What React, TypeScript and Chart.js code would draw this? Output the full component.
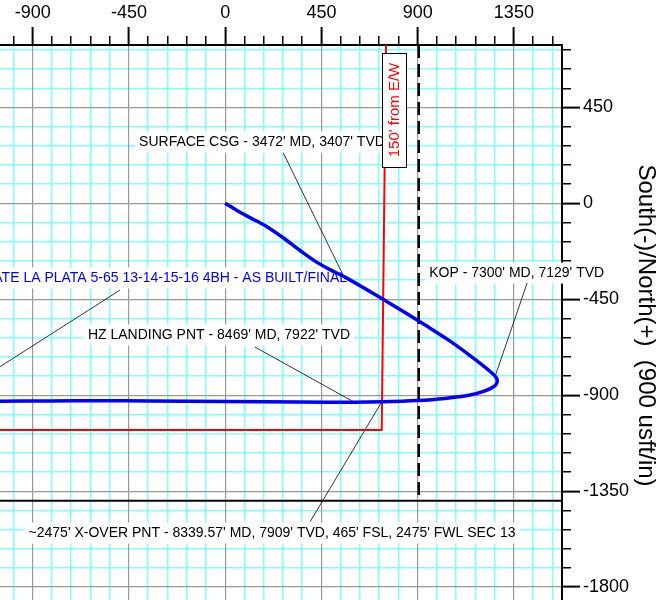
import React, { useEffect, useRef } from "react";
import { Chart, registerables } from "chart.js";

Chart.register(...registerables);

const FONT = '"Liberation Sans", Arial, Helvetica, sans-serif';

// axis ranges (usft)
const X_MIN = -1053;
const X_MAX = 1575;
const Y_MIN = -1889;
const Y_MAX = 743;
const X_MAJOR_TICKS = [-900, -450, 0, 450, 900, 1350];
const Y_MAJOR_TICKS = [450, 0, -450, -900, -1350, -1800];
const MINOR_STEP = 90;
const MAJOR_STEP = 450;
const Y_TITLE = "South(-)/North(+)  (900 usft/in)";

// well path (East/West, South/North)
const WELL_X = [0, 55, 116, 186, 266, 350, 420, 490, 560, 654, 748, 841, 935, 1038, 1145, 1229, 1267, 1271, 1255, 1211, 1145, 1028, 897, 734, 603, 350, 0, -352, -586, -820, -1054, -1150];
const WELL_Y = [0, -33, -67, -104, -158, -221, -271, -311, -346, -400, -456, -512, -571, -637, -714, -780, -817, -841, -860, -881, -899, -915, -925, -931, -933, -932, -930, -927, -926, -927, -928, -928];

// 150' hard line (red)
const HARDLINE_X = [752, 732, -1200];
const HARDLINE_Y = [743, -1063, -1063];

// section lines (black)
const SECTION_EW_X = [905, 905];
const SECTION_EW_Y = [743, -1395];
const SECTION_NS_X = [-1200, 1575];
const SECTION_NS_Y = [-1395, -1395];

// annotation leader lines [x1, y1, x2, y2]
const LEADER_SURFACE = [272, 236, 552, -338];
const LEADER_WELL = [-492, -407, -1193, -856];
const LEADER_HZ = [139, -674, 602, -932];
const LEADER_KOP = [1412, -374, 1264, -806];
const LEADER_XOVER = [397, -1494, 733, -930];
const LEADERS = [LEADER_SURFACE, LEADER_WELL, LEADER_HZ, LEADER_KOP, LEADER_XOVER];

// annotation labels
const LABEL_TEXTS = [
  "SURFACE CSG - 3472' MD, 3407' TVD",
  "STATE LA PLATA 5-65 13-14-15-16 4BH - AS BUILT/FINAL",
  "HZ LANDING PNT - 8469' MD, 7922' TVD",
  "KOP - 7300' MD, 7129' TVD",
  "~2475' X-OVER PNT - 8339.57' MD, 7909' TVD, 465' FSL, 2475' FWL SEC 13",
];
const LABEL_X = [172, 570, -29, 1363, 219];
const LABEL_Y = [288, -350, -618, -327, -1547];
const LABEL_ALIGN = ["center", "right", "center", "center", "center"];
const LABEL_COLORS = ["#000000", "#0000ff", "#000000", "#000000", "#000000"];

const HARDLINE_LABEL = "150' from E/W";
const HARDLINE_LABEL_X = 790;
const HARDLINE_LABEL_Y = 438;

const toPoints = (xs: number[], ys: number[]) => xs.map((x, i) => ({ x, y: ys[i] }));

function minorTicks(min: number, max: number) {
  const out: { value: number }[] = [];
  for (let v = Math.ceil(min / MINOR_STEP) * MINOR_STEP; v <= max; v += MINOR_STEP) {
    if (Math.abs(v % MAJOR_STEP) !== 0) out.push({ value: v });
  }
  return out;
}

const zeroPad = (s: any) => {
  s.paddingTop = 0;
  s.paddingBottom = 0;
  s.paddingLeft = 0;
  s.paddingRight = 0;
};

const labelPlugin = {
  id: "wellLabels",
  beforeDatasetsDraw(chart: any) {
    const { ctx, scales } = chart;
    const sx = scales.x;
    const sy = scales.y;
    ctx.save();
    ctx.font = `14px ${FONT}`;
    ctx.textBaseline = "middle";
    LABEL_TEXTS.forEach((t, i) => {
      const px = sx.getPixelForValue(LABEL_X[i]);
      const py = sy.getPixelForValue(LABEL_Y[i]);
      const w = ctx.measureText(t).width;
      const align = LABEL_ALIGN[i];
      const left = align === "right" ? px - w : px - w / 2;
      ctx.fillStyle = "#ffffff";
      ctx.fillRect(left - 4, py - 10.5, w + 8, 21);
      ctx.fillStyle = LABEL_COLORS[i];
      ctx.textAlign = "left";
      ctx.fillText(t, left, py);
    });
    ctx.restore();
  },
  afterDatasetsDraw(chart: any) {
    const { ctx, scales } = chart;
    const px = scales.x.getPixelForValue(HARDLINE_LABEL_X);
    const py = scales.y.getPixelForValue(HARDLINE_LABEL_Y);
    const bw = 24;
    const bh = 114;
    ctx.save();
    ctx.fillStyle = "#ffffff";
    ctx.fillRect(px - bw / 2, py - bh / 2, bw, bh);
    ctx.strokeStyle = "#000000";
    ctx.lineWidth = 1;
    ctx.strokeRect(Math.round(px - bw / 2) + 0.5, Math.round(py - bh / 2) + 0.5, bw, bh);
    ctx.translate(px, py);
    ctx.rotate(-Math.PI / 2);
    ctx.font = `15px ${FONT}`;
    ctx.fillStyle = "#ff0000";
    ctx.textAlign = "center";
    ctx.textBaseline = "middle";
    ctx.fillText(HARDLINE_LABEL, 0, 1);
    ctx.restore();
  },
};

export default function App() {
  const ref = useRef<HTMLCanvasElement | null>(null);

  useEffect(() => {
    if (!ref.current) return;
    Chart.defaults.font.family = FONT;

    const lineDs = (data: any[], color: string, width: number, extra: any = {}) => ({
      data,
      showLine: true,
      borderColor: color,
      backgroundColor: color,
      borderWidth: width,
      pointRadius: 0,
      pointHoverRadius: 0,
      fill: false,
      xAxisID: "x",
      yAxisID: "y",
      ...extra,
    });

    const datasets: any[] = [
      lineDs(toPoints(WELL_X, WELL_Y), "#0000ff", 3.5, { tension: 0.3 }),
      lineDs(toPoints(HARDLINE_X, HARDLINE_Y), "#ff0000", 2),
      lineDs(toPoints(SECTION_EW_X, SECTION_EW_Y), "#000000", 2.5, { borderDash: [13, 6] }),
      lineDs(toPoints(SECTION_NS_X, SECTION_NS_Y), "#000000", 2),
      ...LEADERS.map((l) =>
        lineDs(
          [
            { x: l[0], y: l[1] },
            { x: l[2], y: l[3] },
          ],
          "#000000",
          0.8
        )
      ),
    ];

    const tickFont = { size: 18, family: FONT };

    const chart = new Chart(ref.current, {
      type: "scatter",
      data: { datasets },
      options: {
        animation: false,
        responsive: false,
        events: [],
        layout: { padding: 0 },
        plugins: {
          legend: { display: false },
          tooltip: { enabled: false },
          title: { display: false },
        },
        scales: {
          x: {
            type: "linear",
            position: "top",
            min: X_MIN,
            max: X_MAX,
            weight: 1,
            afterBuildTicks: (s: any) => {
              s.ticks = X_MAJOR_TICKS.map((v) => ({ value: v }));
            },
            afterFit: (s: any) => {
              s.height = 45;
              zeroPad(s);
            },
            ticks: {
              autoSkip: false,
              maxRotation: 0,
              padding: 3,
              color: "#000000",
              font: tickFont,
              callback: (v: any) => String(v),
            },
            grid: {
              color: "#999999",
              lineWidth: 1.2,
              tickLength: 18,
              tickColor: "#000000",
              tickWidth: 2,
              z: -1,
            },
            border: { display: true, color: "#000000", width: 2 },
          },
          x2: {
            type: "linear",
            position: "top",
            min: X_MIN,
            max: X_MAX,
            weight: 0,
            afterBuildTicks: (s: any) => {
              s.ticks = minorTicks(X_MIN, X_MAX);
            },
            afterFit: (s: any) => {
              s.height = 0;
              zeroPad(s);
            },
            ticks: { display: false, autoSkip: false },
            grid: {
              color: "#80ffff",
              lineWidth: 1.5,
              tickLength: 9,
              tickColor: "#000000",
              tickWidth: 1.5,
              z: -2,
            },
            border: { display: false },
          },
          y: {
            type: "linear",
            position: "right",
            min: Y_MIN,
            max: Y_MAX,
            weight: 1,
            afterBuildTicks: (s: any) => {
              s.ticks = Y_MAJOR_TICKS.map((v) => ({ value: v }));
            },
            afterFit: (s: any) => {
              s.width = 94;
              zeroPad(s);
            },
            ticks: {
              autoSkip: false,
              padding: 3,
              color: "#000000",
              font: tickFont,
              callback: (v: any) => String(v),
            },
            grid: {
              color: "#999999",
              lineWidth: 1.2,
              tickLength: 18,
              tickColor: "#000000",
              tickWidth: 2,
              z: -1,
            },
            border: { display: true, color: "#000000", width: 2 },
            title: {
              display: true,
              text: Y_TITLE,
              color: "#000000",
              font: { size: 24, family: FONT, lineHeight: 0.9 },
              padding: 0,
            },
          },
          y2: {
            type: "linear",
            position: "right",
            min: Y_MIN,
            max: Y_MAX,
            weight: 0,
            afterBuildTicks: (s: any) => {
              s.ticks = minorTicks(Y_MIN, Y_MAX);
            },
            afterFit: (s: any) => {
              s.width = 0;
              zeroPad(s);
            },
            ticks: { display: false, autoSkip: false },
            grid: {
              color: "#80ffff",
              lineWidth: 1.5,
              tickLength: 9,
              tickColor: "#000000",
              tickWidth: 1.5,
              z: -2,
            },
            border: { display: false },
          },
        },
      } as any,
      plugins: [labelPlugin],
    });

    return () => chart.destroy();
  }, []);

  return (
    <div
      style={{
        position: "fixed",
        left: 0,
        top: 0,
        width: 656,
        height: 600,
        overflow: "hidden",
        background: "#ffffff",
      }}
    >
      <canvas ref={ref} width={656} height={606} style={{ width: 656, height: 606, display: "block" }} />
    </div>
  );
}
